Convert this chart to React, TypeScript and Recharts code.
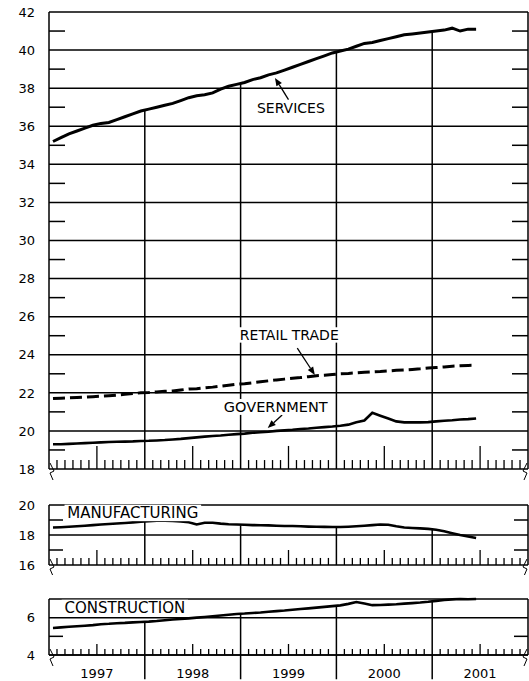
import React from "react";
import { LineChart, Line, XAxis, YAxis, ReferenceLine, ReferenceDot } from "recharts";

const FONT = "DejaVu Sans";
const INK = "#000";

const yearLabels = ["1997", "1998", "1999", "2000", "2001"];

// millions of workers, Jan 1997 .. Jun 2001
const services = [
  35.2, 35.4, 35.6, 35.75, 35.9, 36.05, 36.15, 36.2, 36.35, 36.5, 36.65, 36.8,
  36.9, 37.0, 37.1, 37.2, 37.35, 37.5, 37.6, 37.65, 37.75, 37.95, 38.1, 38.2,
  38.3, 38.45, 38.55, 38.7, 38.8, 38.95, 39.1, 39.25, 39.4, 39.55, 39.7, 39.85,
  39.95, 40.05, 40.2, 40.35, 40.4, 40.5, 40.6, 40.7, 40.8, 40.85, 40.9, 40.95,
  41.0, 41.05, 41.15, 41.0, 41.1, 41.1,
];
const retailTrade = [
  21.7, 21.72, 21.74, 21.76, 21.78, 21.8, 21.82, 21.85, 21.88, 21.92, 21.96, 22.0,
  22.02, 22.05, 22.08, 22.1, 22.15, 22.2, 22.22, 22.26, 22.3, 22.35, 22.4, 22.45,
  22.48, 22.53, 22.58, 22.63, 22.68, 22.72, 22.76, 22.8, 22.85, 22.9, 22.92, 22.96,
  23.0, 23.02, 23.05, 23.08, 23.1, 23.12, 23.15, 23.18, 23.2, 23.23, 23.26, 23.3,
  23.33, 23.36, 23.4, 23.42, 23.44, 23.45,
];
const government = [
  19.3, 19.3, 19.32, 19.34, 19.36, 19.38, 19.4, 19.42, 19.43, 19.44, 19.45, 19.47,
  19.48, 19.5, 19.52, 19.55, 19.58, 19.62, 19.66, 19.7, 19.73, 19.76, 19.8, 19.83,
  19.86, 19.9, 19.93, 19.96, 20.0, 20.03, 20.06, 20.1, 20.13, 20.17, 20.2, 20.23,
  20.27, 20.33, 20.45, 20.55, 20.95, 20.8, 20.65, 20.5, 20.45, 20.45, 20.45, 20.46,
  20.5, 20.53, 20.56, 20.6, 20.62, 20.65,
];
const manufacturing = [
  18.5, 18.52, 18.55, 18.58, 18.62, 18.66, 18.7, 18.73, 18.77, 18.8, 18.84, 18.88,
  18.92, 18.96, 18.95, 18.93, 18.9, 18.85, 18.7, 18.82, 18.82, 18.76, 18.72, 18.7,
  18.68, 18.66, 18.65, 18.64, 18.62, 18.6, 18.6, 18.58, 18.56, 18.55, 18.54, 18.53,
  18.53, 18.55, 18.58, 18.62, 18.66, 18.7, 18.68, 18.58, 18.5, 18.47, 18.44, 18.41,
  18.35, 18.25, 18.12, 18.0, 17.9, 17.8,
];
const construction = [
  5.45, 5.48, 5.51, 5.54, 5.57, 5.6, 5.65, 5.67, 5.7, 5.72, 5.75, 5.77,
  5.79, 5.82, 5.86, 5.9, 5.93, 5.96, 6.0, 6.04, 6.08, 6.12, 6.16, 6.2,
  6.22, 6.25, 6.28, 6.32, 6.35, 6.38, 6.42, 6.46, 6.5, 6.54, 6.58, 6.62,
  6.66, 6.74, 6.84, 6.76, 6.67, 6.68, 6.7, 6.72, 6.75, 6.78, 6.81, 6.85,
  6.9, 6.95, 6.98, 7.0, 6.99, 7.0,
];

// where the year dividers start (they hang from the top series of each panel)
const yearStarts = [12, 24, 36, 48];
const midYears = [6, 18, 30, 42, 54];
const servicesAtYearStart = [36.85, 38.27, 39.9, 40.95];
const manufacturingAtYearStart = [18.9, 18.65, 18.5, 18.4];
const constructionAtYearStart = [5.8, 6.2, 6.65, 6.9];

const data = services.map((s, i) => ({
  month: i + 0.5,
  services: s,
  retail: retailTrade[i],
  government: government[i],
  manufacturing: manufacturing[i],
  construction: construction[i],
}));

const monthTicks = Array.from({ length: 61 }, (_, k) => k);
const PLOT_W = 479;

const valueTick = (labelled: number[], dashed: number[], dash: number) => (props: any) => {
  const { x, y, payload } = props;
  const v = payload.value;
  if (labelled.includes(v)) {
    return (
      <text x={x - 14} y={y} dy="0.36em" textAnchor="end" fontSize={13} fontFamily={FONT} fill={INK}>
        {v}
      </text>
    );
  }
  if (dashed.includes(v)) {
    return (
      <g>
        <rect x={x} y={y - 0.75} width={dash} height={1.5} fill={INK} />
        <rect x={x + PLOT_W - dash} y={y - 0.75} width={dash} height={1.5} fill={INK} />
      </g>
    );
  }
  return <g />;
};

const yearTick = (props: any) => {
  const { x, y, payload } = props;
  return (
    <text x={x} y={y + 23} textAnchor="middle" fontSize={13} fontFamily={FONT} fill={INK}>
      {yearLabels[(payload.value - 6) / 12]}
    </text>
  );
};

// axis break mark hanging under both ends of each panel
const breakMark = (dir: number) => (props: any) => {
  const { cx: x, cy: y } = props;
  return (
    <path
      d={`M${x + dir * 1},${y - 6} L${x + dir * 5},${y + 2} L${x + dir * 1},${y + 4} L${x + dir * 4},${y + 11}`}
      fill="none"
      stroke={INK}
      strokeWidth={1}
    />
  );
};

const arrowShape = (props: any) => {
  const { x1, y1, x2, y2 } = props;
  const a = Math.atan2(y2 - y1, x2 - x1);
  const L = 8;
  const W = 3.2;
  const bx = x2 - L * Math.cos(a);
  const by = y2 - L * Math.sin(a);
  const pts = `${x2},${y2} ${bx + W * Math.sin(a)},${by - W * Math.cos(a)} ${bx - W * Math.sin(a)},${by + W * Math.cos(a)}`;
  return (
    <g>
      <line x1={x1} y1={y1} x2={bx} y2={by} stroke={INK} strokeWidth={1.3} />
      <polygon points={pts} fill={INK} />
    </g>
  );
};

const seriesLabel = (text: string, size: number) => (props: any) => {
  const { cx, cy } = props;
  const w = text.length * size * 0.68;
  return (
    <g>
      <rect x={cx - w / 2 - 2} y={cy - size * 0.55} width={w + 4} height={size * 1.1} fill="#fff" />
      <text x={cx} y={cy} dy="0.36em" textAnchor="middle" fontSize={size} fontFamily={FONT} fill={INK}>
        {text}
      </text>
    </g>
  );
};

const axisLine = { stroke: INK, strokeWidth: 1.5 };

// horizontal rules, including the panel's top frame and its time axis
function gridLines(values: number[]) {
  return values.map((v) => <ReferenceLine key={`g${v}`} y={v} stroke={INK} strokeWidth={1.5} />);
}

function yearLines(tops: number[], bottom: number) {
  return yearStarts.map((m, i) => (
    <ReferenceLine
      key={`y${m}`}
      segment={[
        { x: m, y: tops[i] },
        { x: m, y: bottom },
      ]}
      stroke={INK}
      strokeWidth={1.5}
    />
  ));
}

// monthly tick marks standing on the time axis; lengths are in value units of the panel
function monthMarks(bottom: number, shortLen: number, tallLen: number) {
  return monthTicks
    .filter((k) => k % 12 !== 0)
    .map((k) => (
      <ReferenceLine
        key={`t${k}`}
        segment={[
          { x: k, y: bottom },
          { x: k, y: bottom + (k % 12 === 6 ? tallLen : shortLen) },
        ]}
        stroke={INK}
        strokeWidth={1.3}
      />
    ));
}

function breakMarks(bottom: number) {
  return [
    <ReferenceDot key="b0" x={0} y={bottom} r={0} ifOverflow="visible" shape={breakMark(1)} />,
    <ReferenceDot key="b1" x={60} y={bottom} r={0} ifOverflow="visible" shape={breakMark(-1)} />,
  ];
}

export default function App() {
  return (
    <div style={{ position: "absolute", left: 0, top: 0, width: 529, height: 681, background: "#fff" }}>
      <div style={{ position: "absolute", left: 0, top: 0 }}>
        <LineChart width={529} height={480} data={data} margin={{ top: 12, right: 1, left: 0, bottom: 11 }}>
          <XAxis dataKey="month" type="number" domain={[0, 60]} height={0} tick={false} tickLine={false} axisLine={axisLine} />
          <YAxis
            type="number"
            domain={[18, 42]}
            ticks={[18, 19, 20, 21, 22, 23, 24, 25, 26, 27, 28, 29, 30, 31, 32, 33, 34, 35, 36, 37, 38, 39, 40, 41, 42]}
            interval={0}
            width={49}
            tickSize={0}
            tickMargin={0}
            tickLine={false}
            axisLine={axisLine}
            tick={valueTick([18, 20, 22, 24, 26, 28, 30, 32, 34, 36, 38, 40, 42], [19, 21, 23, 25, 27, 29, 31, 33, 35, 37, 39, 41], 16)}
          />
          {gridLines([18, 20, 22, 24, 26, 28, 30, 32, 34, 36, 38, 40, 42])}
          <ReferenceLine x={60} stroke={INK} strokeWidth={1.5} />
          {yearLines(servicesAtYearStart, 18)}
          {monthMarks(18, 0.47, 1.21)}
          {breakMarks(18)}
          <Line type="linear" dataKey="services" stroke={INK} strokeWidth={3} dot={false} isAnimationActive={false} />
          <Line type="linear" dataKey="retail" stroke={INK} strokeWidth={3} strokeDasharray="12 5" dot={false} isAnimationActive={false} />
          <Line type="linear" dataKey="government" stroke={INK} strokeWidth={2.6} dot={false} isAnimationActive={false} />
          <ReferenceDot x={30.3} y={36.96} r={0} shape={seriesLabel("SERVICES", 14)} />
          <ReferenceDot x={30.1} y={25.04} r={0} shape={seriesLabel("RETAIL TRADE", 14)} />
          <ReferenceDot x={28.4} y={21.26} r={0} shape={seriesLabel("GOVERNMENT", 14.5)} />
          <ReferenceLine segment={[{ x: 30.0, y: 37.4 }, { x: 28.3, y: 38.54 }]} shape={arrowShape} />
          <ReferenceLine segment={[{ x: 31.1, y: 24.35 }, { x: 33.3, y: 22.94 }]} shape={arrowShape} />
          <ReferenceLine segment={[{ x: 29.2, y: 20.84 }, { x: 27.4, y: 20.15 }]} shape={arrowShape} />
        </LineChart>
      </div>

      <div style={{ position: "absolute", left: 0, top: 495 }}>
        <LineChart width={529} height={80} data={data} margin={{ top: 10, right: 1, left: 0, bottom: 10 }}>
          <XAxis dataKey="month" type="number" domain={[0, 60]} height={0} tick={false} tickLine={false} axisLine={axisLine} />
          <YAxis
            type="number"
            domain={[16, 20]}
            ticks={[16, 17, 18, 19, 20]}
            interval={0}
            width={49}
            tickSize={0}
            tickMargin={0}
            tickLine={false}
            axisLine={axisLine}
            tick={valueTick([16, 18, 20], [17, 19], 14)}
          />
          {gridLines([16, 18, 20])}
          <ReferenceLine x={60} stroke={INK} strokeWidth={1.5} />
          {yearLines(manufacturingAtYearStart, 16)}
          {monthMarks(16, 0.47, 1.0)}
          {breakMarks(16)}
          <Line type="linear" dataKey="manufacturing" stroke={INK} strokeWidth={2.6} dot={false} isAnimationActive={false} />
          <ReferenceDot x={10.5} y={19.47} r={0} shape={seriesLabel("MANUFACTURING", 15)} />
        </LineChart>
      </div>

      <div style={{ position: "absolute", left: 0, top: 590 }}>
        <LineChart width={529} height={91} data={data} margin={{ top: 9, right: 1, left: 0, bottom: 0 }}>
          <XAxis
            dataKey="month"
            type="number"
            domain={[0, 60]}
            ticks={midYears}
            interval={0}
            height={26}
            tickSize={0}
            tickMargin={0}
            tickLine={false}
            axisLine={axisLine}
            tick={yearTick}
          />
          <YAxis
            type="number"
            domain={[4, 7]}
            ticks={[4, 5, 6, 7]}
            interval={0}
            width={49}
            tickSize={0}
            tickMargin={0}
            tickLine={false}
            axisLine={axisLine}
            tick={valueTick([4, 6], [5], 14)}
          />
          {gridLines([4, 6, 7])}
          <ReferenceLine x={60} stroke={INK} strokeWidth={1.5} />
          {yearLines(constructionAtYearStart, 4)}
          {yearStarts.map((m) => (
            <ReferenceLine
              key={`e${m}`}
              segment={[
                { x: m, y: 4 },
                { x: m, y: 2.7 },
              ]}
              ifOverflow="visible"
              stroke={INK}
              strokeWidth={1.5}
            />
          ))}
          {monthMarks(4, 0.32, 0.59)}
          {breakMarks(4)}
          <Line type="linear" dataKey="construction" stroke={INK} strokeWidth={2.6} dot={false} isAnimationActive={false} />
          <ReferenceDot x={9.5} y={6.52} r={0} shape={seriesLabel("CONSTRUCTION", 15)} />
        </LineChart>
      </div>
    </div>
  );
}
